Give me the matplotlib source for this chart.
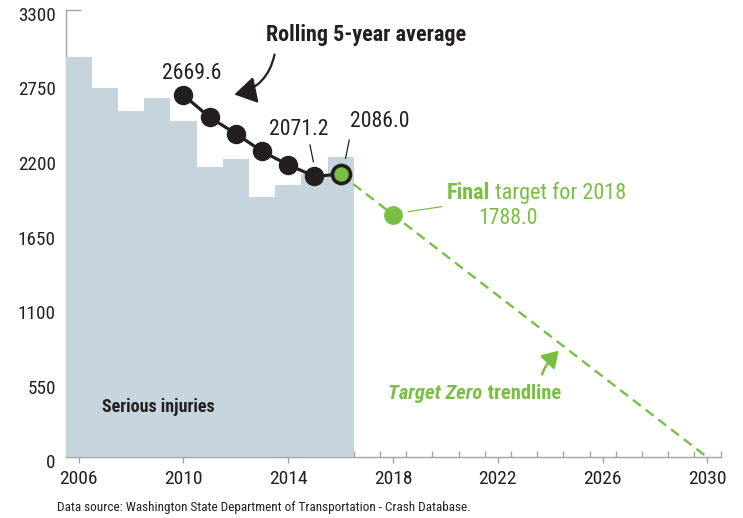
import matplotlib
matplotlib.use("Agg")
import matplotlib.pyplot as plt
from matplotlib import font_manager
from matplotlib.patches import FancyArrowPatch
from matplotlib.transforms import ScaledTranslation, offset_copy

# serious injuries per year (bars)
years = [2006, 2007, 2008, 2009, 2010, 2011, 2012, 2013, 2014, 2015, 2016]
injuries = [2952, 2720, 2554, 2648, 2481, 2142, 2201, 1921, 2007, 2090, 2216]

# rolling 5-year average
roll_years = [2010, 2011, 2012, 2013, 2014, 2015, 2016]
roll_vals = [2669.6, 2506, 2385, 2255, 2155, 2071.2, 2086.0]

# target zero trendline
trend_years = [2016, 2018, 2030]
trend_vals = [2086.0, 1788.0, 0]

yticks = [0, 550, 1100, 1650, 2200, 2750, 3300]
xticks = [2006, 2010, 2014, 2018, 2022, 2026, 2030]

dark = "#231f20"
green = "#7abf43"
barcol = "#c6d4dd"
gray = "#a3a3a3"

# condensed face if there is one, otherwise Liberation Sans a bit smaller
try:
    font_manager.findfont(font_manager.FontProperties(family='Roboto Condensed'),
                          fallback_to_default=False)
    fam = 'Roboto Condensed'
    k = 1.12
except Exception:
    fam = 'Liberation Sans'
    k = 1.0
plt.rcParams['font.family'] = [fam, 'DejaVu Sans']

fig = plt.figure(figsize=(7.43, 5.18), dpi=100)
ax = fig.add_axes([65.5/743, 1-457.3/518, 655/743, 447.8/518])

ax.bar(years, injuries, width=1.0, color=barcol, linewidth=0, zorder=1)

ax.plot(trend_years, trend_vals, color=green, lw=1.7, ls=(0, (4.2, 2.6)), zorder=3, clip_on=False)
ax.plot(trend_years[1], trend_vals[1], 'o', color=green, ms=12.5, zorder=4)

ax.plot(roll_years, roll_vals, color=dark, lw=2.3, marker='o', ms=13, zorder=5)
ax.plot(roll_years[-1], roll_vals[-1], 'o', mfc=green, mec=dark, mew=2.6, ms=13, zorder=6)

ax.set_xlim(2005.5, 2030.5)
ax.set_ylim(0, 3300)
ax.set_axisbelow(True)

for s in ['top', 'right']:
    ax.spines[s].set_visible(False)
for s in ['left', 'bottom']:
    ax.spines[s].set_color(gray)
    ax.spines[s].set_linewidth(1.0)
    ax.spines[s].set_zorder(0.5)

ax.set_xticks(xticks)
ax.set_xticklabels([str(x) for x in xticks])
ax.set_xticks([y + 0.5 for y in range(2016, 2031)], minor=True)
ax.tick_params(axis='x', which='major', direction='out', length=4.5, width=1, color=gray,
               labelsize=12.5*k, labelcolor=dark, pad=5)
ax.tick_params(axis='x', which='minor', direction='in', length=4.5, width=1, color=gray)
ax.set_yticks(yticks)
ax.set_yticklabels([str(y) for y in yticks])
ax.tick_params(axis='y', length=0, labelsize=12.3*k, labelcolor=dark, pad=7)
for lab in ax.get_yticklabels():
    lab.set_transform(lab.get_transform() + ScaledTranslation(0, -3/72, fig.dpi_scale_trans))
ax.hlines(3300, 2005.5, 2006.1, color=gray, lw=1.0, clip_on=False, zorder=0.5)

# annotations
ax.text(2016.97, 3112, "Rolling 5-year average", fontsize=14.2*k, fontweight='bold',
        color=dark, ha='center', va='center')
ax.add_patch(FancyArrowPatch((2013.5, 2988), (2011.84, 2670),
                             arrowstyle='-|>,head_length=0.9,head_width=0.55',
                             connectionstyle='arc3,rad=-0.35', mutation_scale=15,
                             color=dark, lw=1.6, zorder=6))
ax.text(2010.32, 2830, "2669.6", fontsize=14*k, color=dark, ha='center', va='center')
ax.text(2014.39, 2412, "2071.2", fontsize=14*k, color=dark, ha='center', va='center')
ax.plot([2014.83, 2014.96], [2302, 2179], color=dark, lw=0.9)
ax.text(2017.50, 2473, "2086.0", fontsize=14*k, color=dark, ha='center', va='center')
ax.plot([2016.33, 2016.19], [2338, 2204], color=dark, lw=0.9)

fig.canvas.draw()
rend = fig.canvas.get_renderer()

t1 = ax.text(2020.05, 1950, "Final", fontsize=14.3*k, fontweight='bold', color=green,
             ha='left', va='center')
w = t1.get_window_extent(rend).width
ax.text(2020.05, 1950, " target for 2018", fontsize=14.3*k, color=green, ha='left', va='center',
        transform=offset_copy(ax.transData, fig=fig, x=w, y=0, units='dots'))
ax.text(2021.26, 1761, "1788.0", fontsize=14*k, color=green, ha='left', va='center')
ax.plot([2018.58, 2019.86], [1810, 1847], color=green, lw=0.9)

ax.text(2006.88, 371, "Serious injuries", fontsize=11.6*k, fontweight='bold', color=dark,
        ha='left', va='center')

t2 = ax.text(2017.82, 472, "Target Zero", fontsize=13.3*k, fontweight='bold', style='italic',
             color=green, ha='left', va='center')
w = t2.get_window_extent(rend).width
ax.text(2017.82, 472, " trendline", fontsize=13.3*k, fontweight='bold', color=green,
        ha='left', va='center',
        transform=offset_copy(ax.transData, fig=fig, x=w, y=0, units='dots'))
ax.add_patch(FancyArrowPatch((2023.68, 590), (2024.4, 800),
                             arrowstyle='-|>,head_length=0.8,head_width=0.5',
                             connectionstyle='angle3,angleA=90,angleB=45', mutation_scale=12,
                             color=green, lw=1.8, zorder=6))

fig.text(57/743, 1-508/518, "Data source: Washington State Department of Transportation - Crash Database.",
         fontsize=8.5*k, color=dark, ha='left', va='center')

fig.savefig("out.png", dpi=100)
